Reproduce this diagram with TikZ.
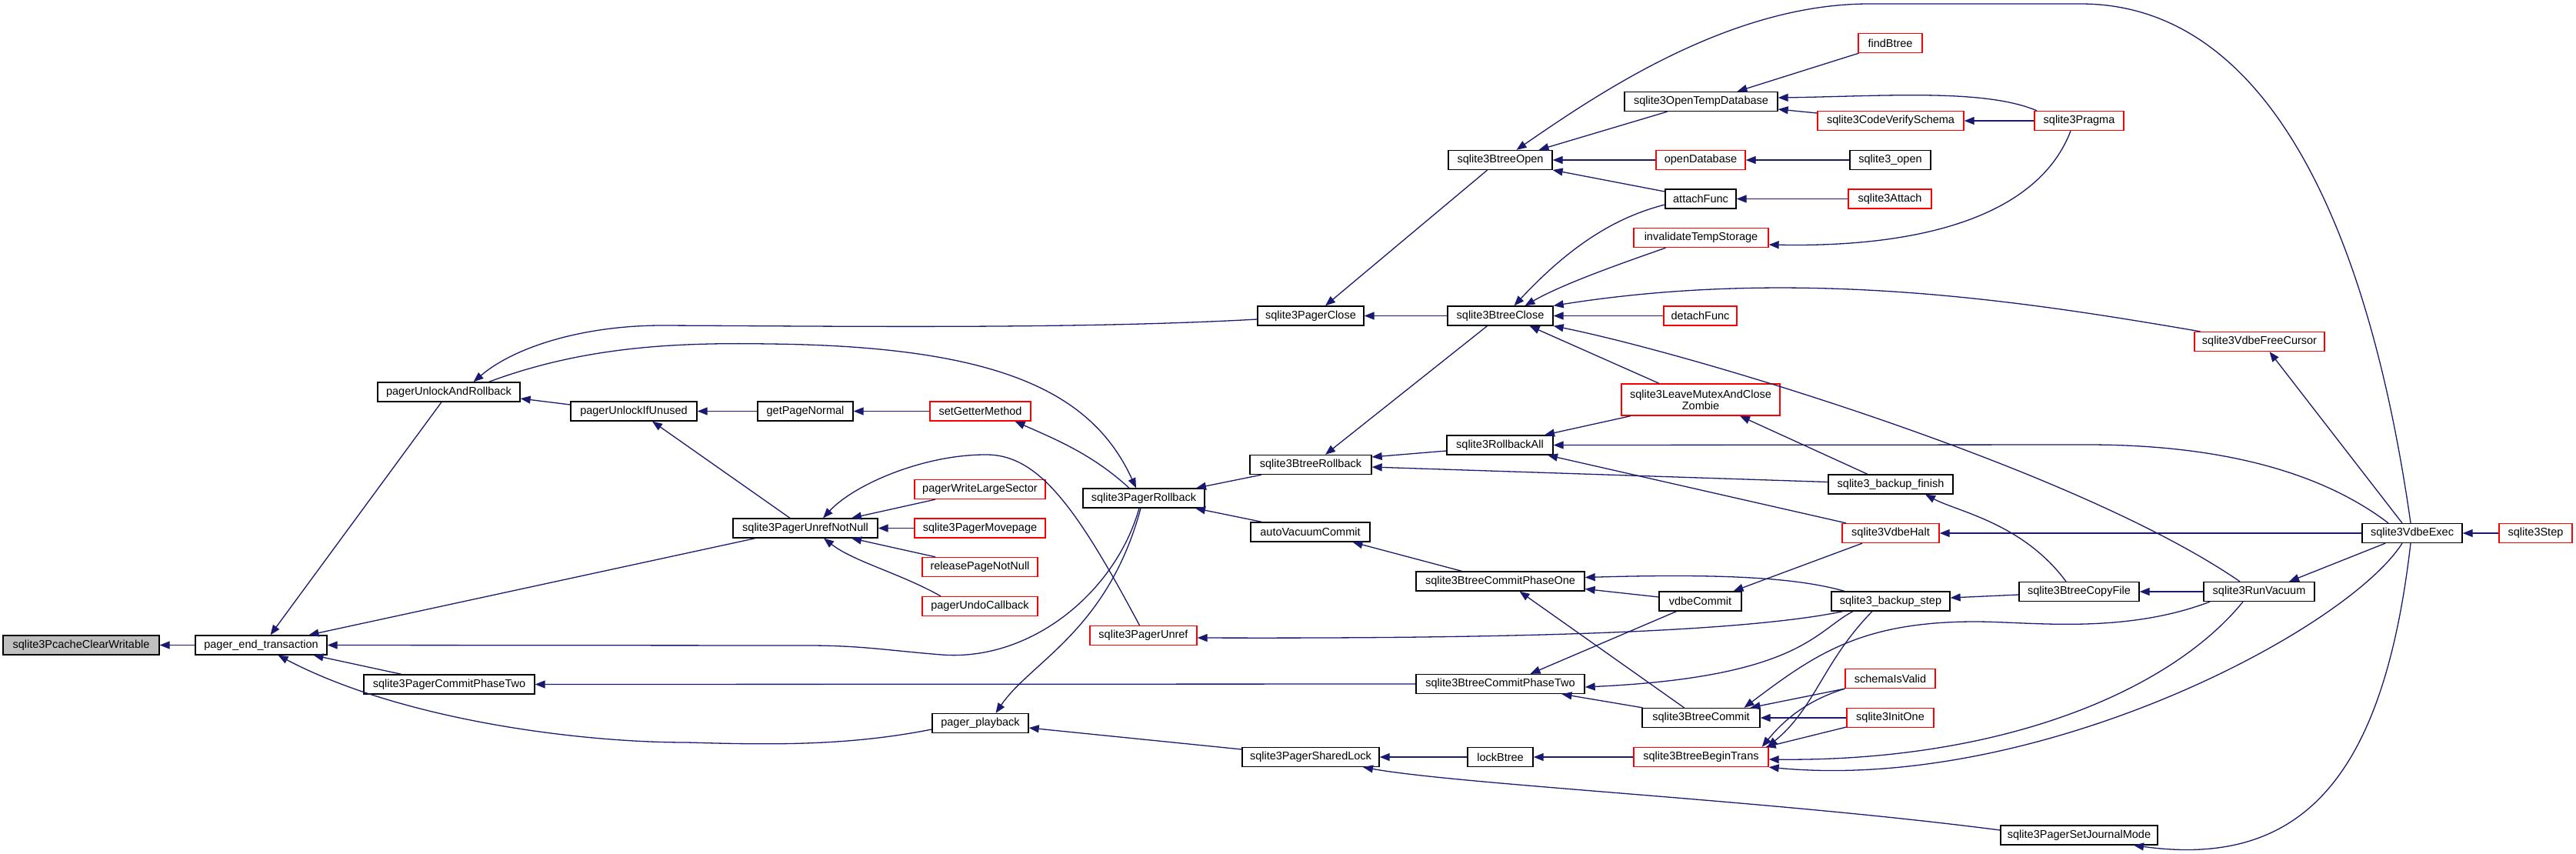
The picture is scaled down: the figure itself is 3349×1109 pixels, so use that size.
\documentclass[tikz,border=0pt]{standalone}
\usepackage{fontspec}
\setmainfont{Liberation Sans}
\usetikzlibrary{arrows.meta}
\definecolor{edgecol}{HTML}{191970}
\definecolor{rootfill}{HTML}{BFBFBF}
\definecolor{redb}{HTML}{FF0000}
\tikzset{
  bx/.style={draw=black, line width=1.3pt, minimum height=25pt, inner sep=0pt, font=\fontsize{14.5}{15}\selectfont, align=center},
  rbx/.style={bx, draw=redb},
  e/.style={draw=edgecol, line width=1.3pt, -{Triangle[length=13pt,width=10pt]}}
}
\begin{document}
\begin{tikzpicture}[x=1pt,y=-1pt]
\useasboundingbox (0,0) rectangle (3349,1109);
% nodes
\node[bx, fill=rootfill, minimum width=203pt] (root) at (105.5,838.5) {sqlite3PcacheClearWritable};
\node[bx, minimum width=171pt] (pet) at (339.5,838.5) {pager\_end\_transaction};
\node[bx, minimum width=222pt] (pcp2) at (584,889.5) {sqlite3PagerCommitPhaseTwo};
\node[bx, minimum width=185pt] (puar) at (583.5,509.5) {pagerUnlockAndRollback};
\node[bx, minimum width=164pt] (puiu) at (824,534.5) {pagerUnlockIfUnused};
\node[bx, minimum width=124pt] (gpn) at (1047,534.5) {getPageNormal};
\node[rbx, minimum width=131pt] (sgm) at (1274.5,534.5) {setGetterMethod};
\node[bx, minimum width=188pt] (punn) at (1047,686.5) {sqlite3PagerUnrefNotNull};
\node[rbx, minimum width=170pt] (pwls) at (1274,636) {pagerWriteLargeSector};
\node[rbx, minimum width=170pt] (pmp) at (1274,686.5) {sqlite3PagerMovepage};
\node[rbx, minimum width=150pt] (rpnn) at (1274,737) {releasePageNotNull};
\node[rbx, minimum width=150pt] (puc) at (1274,788) {pagerUndoCallback};
\node[bx, minimum width=125pt] (pp) at (1274.5,940) {pager\_playback};
\node[bx, minimum width=158pt] (prb) at (1487,647.5) {sqlite3PagerRollback};
\node[rbx, minimum width=139pt] (pu) at (1486.5,826) {sqlite3PagerUnref};
\node[bx, minimum width=138pt] (pc) at (1704,410.5) {sqlite3PagerClose};
\node[bx, minimum width=158pt] (brb) at (1704,604) {sqlite3BtreeRollback};
\node[bx, minimum width=155pt] (avc) at (1703.5,691.5) {autoVacuumCommit};
\node[bx, minimum width=178pt] (psl) at (1704,984) {sqlite3PagerSharedLock};
\node[bx, minimum width=135pt] (bo) at (1950.5,208) {sqlite3BtreeOpen};
\node[bx, minimum width=137pt] (bc) at (1950.5,410.5) {sqlite3BtreeClose};
\node[bx, minimum width=138pt] (rba) at (1950,578.5) {sqlite3RollbackAll};
\node[bx, minimum width=219pt] (bcp1) at (1950.5,755.5) {sqlite3BtreeCommitPhaseOne};
\node[bx, minimum width=219pt] (bcp2) at (1950.5,889) {sqlite3BtreeCommitPhaseTwo};
\node[bx, minimum width=85pt] (lb) at (1950.5,984) {lockBtree};
\node[bx, minimum width=199pt] (otd) at (2211.5,132) {sqlite3OpenTempDatabase};
\node[rbx, minimum width=116pt] (od) at (2211,208) {openDatabase};
\node[bx, minimum width=92pt] (af) at (2211,258.5) {attachFunc};
\node[rbx, minimum width=175pt] (its) at (2211.5,309) {invalidateTempStorage};
\node[rbx, minimum width=95pt] (df) at (2210.5,410.5) {detachFunc};
\node[rbx, minimum width=206pt, minimum height=41pt] (zmb) at (2211,519.5) {sqlite3LeaveMutexAndClose\\Zombie};
\node[bx, minimum width=107pt] (vc) at (2210.5,781.5) {vdbeCommit};
\node[bx, minimum width=153pt] (btc) at (2211.5,933) {sqlite3BtreeCommit};
\node[rbx, minimum width=175pt] (bbt) at (2211.5,984) {sqlite3BtreeBeginTrans};
\node[rbx, minimum width=83pt] (fb) at (2457.5,56) {findBtree};
\node[rbx, minimum width=190pt] (cvs) at (2458,157) {sqlite3CodeVerifySchema};
\node[bx, minimum width=105pt] (so) at (2457.5,208) {sqlite3\_open};
\node[rbx, minimum width=108pt] (sa) at (2457,258.5) {sqlite3Attach};
\node[bx, minimum width=162pt] (bf) at (2458,629.5) {sqlite3\_backup\_finish};
\node[rbx, minimum width=126pt] (vh) at (2458,693) {sqlite3VdbeHalt};
\node[bx, minimum width=154pt] (bs) at (2458,781.5) {sqlite3\_backup\_step};
\node[rbx, minimum width=117pt] (siv) at (2457.5,882) {schemaIsValid};
\node[rbx, minimum width=113pt] (io) at (2457.5,933) {sqlite3InitOne};
\node[rbx, minimum width=116pt] (pr) at (2703,157) {sqlite3Pragma};
\node[bx, minimum width=156pt] (bcf) at (2703,769) {sqlite3BtreeCopyFile};
\node[bx, minimum width=204pt] (sjm) at (2703,1085.5) {sqlite3PagerSetJournalMode};
\node[rbx, minimum width=169pt] (vfc) at (2937.5,444) {sqlite3VdbeFreeCursor};
\node[bx, minimum width=144pt] (rv) at (2937,769) {sqlite3RunVacuum};
\node[bx, minimum width=130pt] (ve) at (3136,693) {sqlite3VdbeExec};
\node[rbx, minimum width=95pt] (st) at (3296.5,693) {sqlite3Step};
% edges
\draw[e] (pet.west) -- (root.east);
\draw[e] ([xshift=-9.5pt]puar.south) -- ([xshift=12pt]pet.north);
\draw[e] ([xshift=-65pt]punn.south) -- ([xshift=62pt]pet.north);
\draw[e] ([xshift=-6pt]prb.south) .. controls (1450,770) and (1340,860) .. (1224,851) .. controls (1150,845) and (1120,839) .. (1050,839) -- (pet.east);
\draw[e] ([xshift=-62pt]pcp2.north) -- ([xshift=68pt]pet.south);
\draw[e] ([yshift=-8pt]pp.west) .. controls (1100,970) and (1000,968) .. (893,965) .. controls (750,965) and (520,935) .. ([xshift=22pt]pet.south);
\draw[e] ([yshift=-4.5pt]pc.west) .. controls (1400,428) and (1100,424) .. (861,423) .. controls (760,423) and (670,450) .. ([xshift=32pt]puar.north);
\draw[e] ([xshift=52pt]puar.north) .. controls (760,450) and (880,445) .. (1000,447) .. controls (1300,450) and (1420,510) .. ([xshift=-10pt]prb.north);
\draw[e] ([yshift=8.5pt]puiu.west) -- ([yshift=-8.5pt]puar.east);
\draw[e] (gpn.west) -- (puiu.east);
\draw[e] ([xshift=-20pt]punn.north) -- ([xshift=24pt]puiu.south);
\draw[e] (sgm.west) -- (gpn.east);
\draw[e] ([xshift=-19pt]prb.north) .. controls (1420,590) and (1370,570) .. ([xshift=45pt]sgm.south);
\draw[e] ([xshift=-58pt]pwls.south) -- ([xshift=60pt]punn.north);
\draw[e] (pmp.west) -- (punn.east);
\draw[e] ([xshift=-58pt]rpnn.north) -- ([xshift=60pt]punn.south);
\draw[e] ([xshift=-51pt]puc.north) .. controls (1170,745) and (1110,730) .. ([xshift=24pt]punn.south);
\draw[e] ([xshift=-5pt]pu.north) .. controls (1400,660) and (1350,590) .. (1281,591) .. controls (1200,591) and (1110,630) .. ([xshift=23pt]punn.north);
\draw[e] ([xshift=-64pt]brb.south) -- ([xshift=68pt]prb.north);
\draw[e] ([xshift=-63pt]avc.north) -- ([xshift=67pt]prb.south);
\draw[e] (bc.west) -- (pc.east);
\draw[e] ([xshift=-17pt]bo.south) -- ([xshift=19pt]pc.north);
\draw[e] ([xshift=-17pt]bc.south) -- ([xshift=19pt]brb.north);
\draw[e] ([yshift=-7.5pt]rba.west) -- ([yshift=10pt]brb.east);
\draw[e] ([yshift=3pt]bf.west) -- ([yshift=-3pt]brb.east);
\draw[e] ([xshift=-50pt]bcp1.north) -- ([xshift=55pt]avc.south);
\draw[e] (bcp2.west) -- (pcp2.east);
\draw[e] ([xshift=-2pt]ve.north) .. controls (3080,300) and (2950,5) .. (2705,5) -- (2430,5) .. controls (2250,5) and (2080,120) .. ([xshift=21pt]bo.north);
\draw[e] ([xshift=-44pt]otd.south) -- ([xshift=50pt]bo.north);
\draw[e] (od.west) -- (bo.east);
\draw[e] ([yshift=9.5pt]af.west) -- ([yshift=-13pt]bo.east);
\draw[e] ([xshift=-41pt]fb.south) -- ([xshift=47pt]otd.north);
\draw[e] ([xshift=-55pt]pr.north) .. controls (2580,115) and (2450,125) .. ([yshift=5pt]otd.east);
\draw[e] ([yshift=10pt]cvs.west) -- ([yshift=-10pt]otd.east);
\draw[e] (pr.west) -- (cvs.east);
\draw[e] (so.west) -- (od.east);
\draw[e] (sa.west) -- (af.east);
\draw[e] ([xshift=-11pt]pr.south) .. controls (2650,280) and (2500,322) .. ([yshift=-9pt]its.east);
\draw[e] ([yshift=-7.5pt]af.west) .. controls (2110,280) and (2050,310) .. ([xshift=18pt]bc.north);
\draw[e] ([xshift=-46pt]its.south) .. controls (2100,345) and (2030,370) .. ([xshift=32pt]bc.north);
\draw[e] ([xshift=-77pt]vfc.north) .. controls (2650,395) and (2350,345) .. (bc.north east);
\draw[e] (df.west) -- (bc.east);
\draw[e] ([xshift=-54pt]zmb.north) -- ([xshift=38pt]bc.south);
\draw[e] ([xshift=-25pt]rv.north) .. controls (2700,610) and (2200,460) .. (bc.south east);
\draw[e] ([xshift=-91pt]zmb.south) -- ([xshift=58pt]rba.north);
\draw[e] ([xshift=-31pt]ve.north) .. controls (3000,600) and (2850,578) .. (2714,578) -- (rba.east);
\draw[e] ([xshift=-58pt]vh.north) -- ([xshift=62pt]rba.south);
\draw[e] ([xshift=-30pt]bf.north) -- ([xshift=51pt]zmb.south);
\draw[e] ([xshift=-17pt]bcf.north) .. controls (2630,680) and (2545,665) .. ([xshift=45pt]bf.south);
\draw[e] (ve.west) -- (vh.east);
\draw[e] (st.west) -- (ve.east);
\draw[e] ([xshift=-13pt]ve.north) -- ([xshift=13pt]vfc.south);
\draw[e] ([xshift=-35pt]ve.south) -- ([xshift=39pt]rv.north);
\draw[e] ([xshift=-37pt]vh.south) -- ([xshift=43pt]vc.north);
\draw[e] (rv.west) -- (bcf.east);
\draw[e] ([yshift=-4pt]bcf.west) -- ([yshift=4.5pt]bs.east);
\draw[e] ([yshift=5.5pt]vc.west) -- ([yshift=-10pt]bcp1.east);
\draw[e] ([xshift=-60pt]bs.north) .. controls (2340,752) and (2250,745) .. ([yshift=5pt]bcp1.east);
\draw[e] ([xshift=-31pt]vc.south) -- ([xshift=39pt]bcp2.north);
\draw[e] ([xshift=-49pt]bs.south) .. controls (2360,820) and (2340,880) .. ([yshift=-4pt]bcp2.east);
\draw[e] ([xshift=-22pt]btc.north) -- ([xshift=25pt]bcp1.south);
\draw[e] ([xshift=-76pt]btc.north) -- ([xshift=80pt]bcp2.south);
\draw[e] ([xshift=-62pt]bs.south) .. controls (2250,825) and (1900,830) .. ([yshift=-3pt]pu.east);
\draw[e] ([xshift=-64pt]rv.south) .. controls (2760,825) and (2640,808) .. (2568,808) .. controls (2420,808) and (2360,850) .. ([xshift=56pt]btc.north);
\draw[e] (siv.south west) -- ([xshift=64pt]btc.north);
\draw[e] (io.west) -- (btc.east);
\draw[e] ([yshift=-12pt]io.west) -- ([xshift=-4pt]bbt.north east);
\draw[e] (siv.south west) .. controls (2350,910) and (2320,935) .. ([xshift=-9pt]bbt.north east);
\draw[e] ([xshift=-24pt]bs.south) .. controls (2370,860) and (2360,920) .. ([xshift=-2pt]bbt.north east);
\draw[e] ([xshift=-21pt]rv.south) .. controls (2820,900) and (2600,990) .. ([yshift=-3pt]bbt.east);
\draw[e] ([xshift=-13pt]ve.south) .. controls (3050,820) and (2650,1030) .. (bbt.south east);
\draw[e] ([xshift=-2pt]ve.south) .. controls (3100,1000) and (3000,1130) .. ([xshift=71pt]sjm.south);
\draw[e] (bbt.west) -- (lb.east);
\draw[e] (lb.west) -- (psl.east);
\draw[e] ([yshift=6.5pt]sjm.west) .. controls (2300,1040) and (1900,1020) .. ([xshift=68pt]psl.south);
\draw[e] ([yshift=10pt]psl.west) -- ([yshift=-6pt]pp.east);
\draw[e] ([xshift=-4pt]prb.south) .. controls (1440,820) and (1340,860) .. ([xshift=20pt]pp.north);
\end{tikzpicture}
\end{document}
